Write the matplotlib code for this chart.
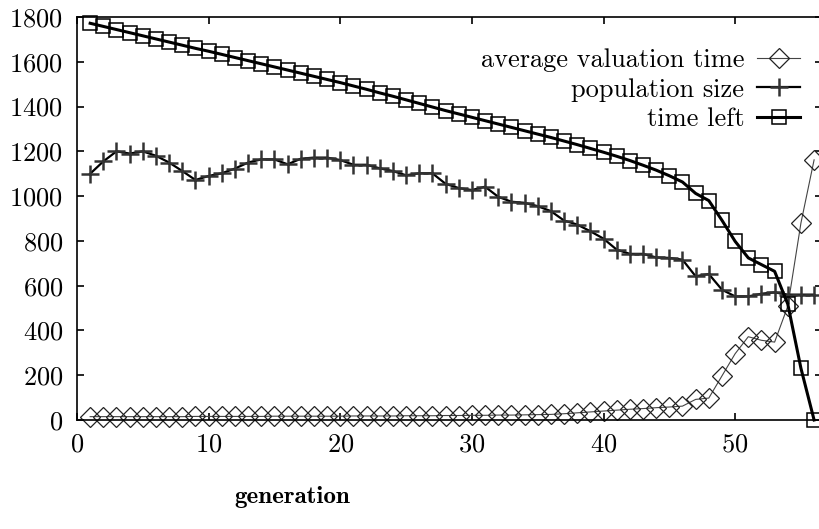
import matplotlib
matplotlib.use("Agg")
import matplotlib.pyplot as plt

# Computer Modern, as shipped with matplotlib
plt.rcParams["font.family"] = "cmr10"
plt.rcParams["axes.formatter.use_mathtext"] = True
plt.rcParams["mathtext.fontset"] = "cm"

generation = list(range(1, 57))

avg_valuation = [15, 15, 15, 15, 15, 15, 15, 15, 16, 16,
                 16, 16, 16, 16, 17, 17, 17, 17, 17, 17,
                 18, 18, 18, 18, 19, 19, 19, 20, 20, 21,
                 21, 22, 22, 23, 24, 25, 28, 32, 36, 40,
                 44, 48, 51, 55, 58, 62, 92, 98, 197, 296,
                 372, 356, 348, 508, 880, 1162]

population = [1100, 1155, 1200, 1190, 1200, 1180, 1150, 1112, 1072, 1090,
              1102, 1123, 1150, 1164, 1164, 1142, 1167, 1172, 1172, 1161,
              1140, 1140, 1124, 1112, 1093, 1102, 1102, 1055, 1036, 1027,
              1042, 997, 975, 970, 955, 933, 891, 873, 843, 810,
              761, 742, 742, 726, 724, 716, 642, 652, 582, 552,
              552, 564, 570, 560, 560, 560]

time_left = [1772, 1758, 1744, 1730, 1716, 1702, 1688, 1674, 1660, 1647,
             1633, 1619, 1605, 1591, 1577, 1563, 1549, 1535, 1521, 1507,
             1492, 1477, 1461, 1446, 1430, 1414, 1398, 1382, 1367, 1352,
             1337, 1322, 1307, 1292, 1277, 1262, 1246, 1230, 1213, 1196,
             1178, 1159, 1138, 1116, 1091, 1063, 1012, 980, 892, 798,
             724, 694, 664, 518, 231, 0]

fig = plt.figure(figsize=(8.2, 5.29), dpi=100)
ax = fig.add_axes([77 / 820, 1 - 420 / 529, 745 / 820, 403 / 529])

ax.plot(generation, avg_valuation, color="#444444", lw=0.8,
        marker="D", ms=10, mfc="none", mec="#222222", mew=0.9,
        label="average valuation time", clip_on=False)
ax.plot(generation, population, color="black", lw=1.6,
        marker="+", ms=13, mec="#333333", mew=1.8,
        label="population size", clip_on=False)
ax.plot(generation, time_left, color="black", lw=2.2,
        marker="s", ms=10, mfc="none", mec="black", mew=1.1,
        label="time left", clip_on=False)

ax.set_xlim(0, 56.6)
ax.set_ylim(0, 1800)
ax.set_xticks(range(0, 60, 10))
ax.set_yticks(range(0, 2000, 200))

for s in ax.spines.values():
    s.set_linewidth(1.2)
ax.tick_params(direction="in", length=5, width=1.2, labelsize=19,
               top=True, right=True)
ax.tick_params(axis="x", pad=9)
ax.tick_params(axis="y", pad=10)

ax.legend(loc="upper right", bbox_to_anchor=(0.97, 0.922), frameon=False,
          markerfirst=False, numpoints=1, fontsize=19, handlelength=1.6,
          handletextpad=0.5, labelspacing=0.22, borderpad=0, borderaxespad=0)

fig.text(292 / 820, 1 - 497 / 529, "generation", family="cmb10",
         fontsize=18, ha="center", va="center")

fig.savefig("out.png", dpi=100)
